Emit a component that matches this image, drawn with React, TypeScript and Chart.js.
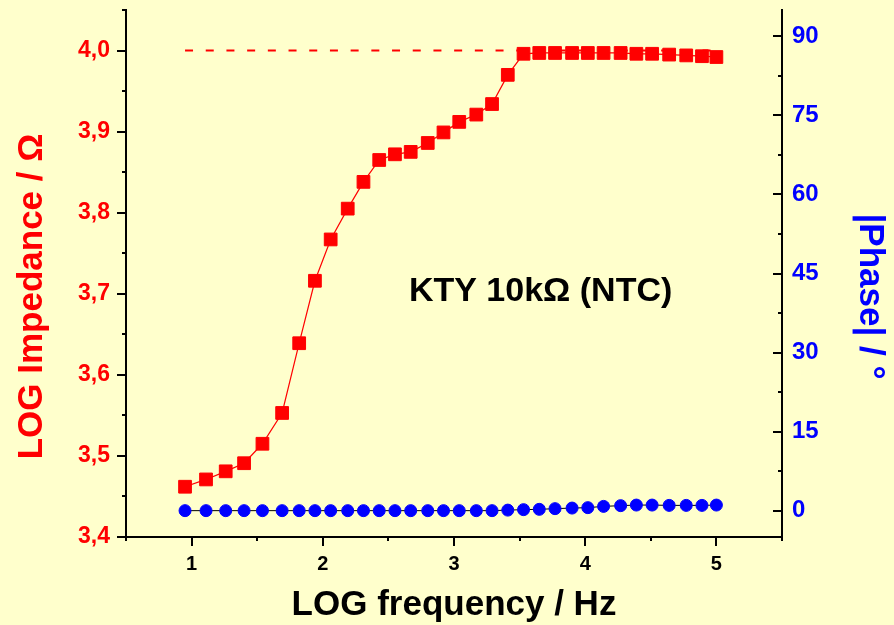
import React, { useEffect, useRef } from "react";
import { Chart, registerables } from "chart.js";

Chart.register(...registerables);

// ---- data ----
const logFreq = [
  0.95, 1.11, 1.26, 1.4, 1.54, 1.69, 1.82, 1.94, 2.06, 2.19, 2.31, 2.43, 2.55,
  2.67, 2.8, 2.92, 3.04, 3.17, 3.29, 3.41, 3.53, 3.65, 3.77, 3.9, 4.02, 4.14,
  4.27, 4.39, 4.51, 4.64, 4.77, 4.89, 5.0,
];
const logImpedance = [
  3.462, 3.471, 3.481, 3.491, 3.515, 3.553, 3.639, 3.716, 3.767, 3.805, 3.838,
  3.865, 3.872, 3.875, 3.886, 3.899, 3.912, 3.921, 3.934, 3.97, 3.996, 3.997,
  3.997, 3.997, 3.997, 3.997, 3.997, 3.996, 3.996, 3.995, 3.994, 3.993, 3.992,
];
const phaseAbs = [
  0, 0, 0, 0, 0, 0, 0, 0, 0, 0, 0, 0, 0, 0, 0, 0, 0, 0, 0, 0.1, 0.19, 0.25,
  0.38, 0.49, 0.57, 0.81, 0.95, 1.06, 1.06, 1.0, 1.0, 1.0, 1.06,
];
const refLineX = [0.95, 5.0];
const refLineY = [4.0, 4.0];

// ---- ticks ----
const xTickValues = [1, 2, 3, 4, 5];
const xMinorTicks = [0.5, 1.5, 2.5, 3.5, 4.5, 5.5];
const leftTickValues = [3.4, 3.5, 3.6, 3.7, 3.8, 3.9, 4.0];
const leftMinorTicks = [3.45, 3.55, 3.65, 3.75, 3.85, 3.95, 4.05];
const rightTickValues = [0, 15, 30, 45, 60, 75, 90];
const rightMinorTicks = [7.5, 22.5, 37.5, 52.5, 67.5, 82.5];

// ---- texts ----
const xTitle = "LOG frequency / Hz";
const leftTitle = "LOG Impedance / Ω";
const rightTitle = "|Phase| / °";
const annotationText = "KTY 10kΩ (NTC)";
const annotationX = 3.66;
const annotationY = 3.691;

const FONT = '"Liberation Sans", Arial, sans-serif';
const RED = "#ff0000";
const BLUE = "#0000ff";

const zeroPad = (s: any) => {
  s.paddingTop = 0;
  s.paddingBottom = 0;
  s.paddingLeft = 0;
  s.paddingRight = 0;
};

const decorPlugin = {
  id: "decor",
  afterDraw(chart: any) {
    const { ctx, chartArea, scales } = chart;
    const sx = scales.x;
    const sy = scales.y;
    const sy1 = scales.y1;
    ctx.save();
    ctx.strokeStyle = "#000";
    ctx.lineWidth = 2;
    ctx.beginPath();
    leftTickValues.forEach((v) => {
      const y = Math.round(sy.getPixelForValue(v));
      ctx.moveTo(chartArea.left - 9, y);
      ctx.lineTo(chartArea.left, y);
    });
    leftMinorTicks.forEach((v) => {
      const y = Math.round(sy.getPixelForValue(v));
      ctx.moveTo(chartArea.left - 4, y);
      ctx.lineTo(chartArea.left, y);
    });
    xTickValues.forEach((v) => {
      const x = Math.round(sx.getPixelForValue(v));
      ctx.moveTo(x, chartArea.bottom);
      ctx.lineTo(x, chartArea.bottom + 9);
    });
    xMinorTicks.forEach((v) => {
      const x = Math.round(sx.getPixelForValue(v));
      ctx.moveTo(x, chartArea.bottom);
      ctx.lineTo(x, chartArea.bottom + 4);
    });
    rightTickValues.forEach((v) => {
      const y = Math.round(sy1.getPixelForValue(v));
      ctx.moveTo(chartArea.right - 9, y);
      ctx.lineTo(chartArea.right, y);
    });
    rightMinorTicks.forEach((v) => {
      const y = Math.round(sy1.getPixelForValue(v));
      ctx.moveTo(chartArea.right - 4, y);
      ctx.lineTo(chartArea.right, y);
    });
    ctx.stroke();

    const cx = (chartArea.left + chartArea.right) / 2;
    const cy = (chartArea.top + chartArea.bottom) / 2;

    ctx.fillStyle = "#000";
    ctx.font = `bold 35px ${FONT}`;
    ctx.textAlign = "center";
    ctx.textBaseline = "alphabetic";
    ctx.fillText(xTitle, cx, chartArea.bottom + 78);

    ctx.save();
    ctx.translate(42, cy + 23);
    ctx.rotate(-Math.PI / 2);
    ctx.fillStyle = RED;
    ctx.fillText(leftTitle, 0, 0);
    ctx.restore();

    ctx.save();
    ctx.translate(chartArea.right + 78, cy + 23);
    ctx.rotate(Math.PI / 2);
    ctx.fillStyle = BLUE;
    ctx.fillText(rightTitle, 0, 0);
    ctx.restore();

    ctx.fillStyle = "#000";
    ctx.font = `bold 34px ${FONT}`;
    ctx.fillText(
      annotationText,
      sx.getPixelForValue(annotationX),
      sy.getPixelForValue(annotationY)
    );
    ctx.restore();
  },
};

export default function App() {
  const canvasRef = useRef<HTMLCanvasElement | null>(null);

  useEffect(() => {
    if (!canvasRef.current) return;
    const chart = new Chart(canvasRef.current, {
      type: "line",
      data: {
        datasets: [
          {
            label: "LOG Impedance",
            data: logFreq.map((x, i) => ({ x, y: logImpedance[i] })),
            yAxisID: "y",
            borderColor: RED,
            borderWidth: 1.2,
            pointStyle: "rect",
            pointRadius: 9,
            pointBorderWidth: 1,
            pointBackgroundColor: RED,
            pointBorderColor: RED,
            tension: 0,
          },
          {
            label: "|Phase|",
            data: logFreq.map((x, i) => ({ x, y: phaseAbs[i] })),
            yAxisID: "y1",
            borderColor: "#000",
            borderWidth: 1,
            pointStyle: "circle",
            pointRadius: 6,
            pointBorderWidth: 1,
            pointBackgroundColor: BLUE,
            pointBorderColor: BLUE,
            tension: 0,
          },
          {
            label: "reference",
            data: refLineX.map((x, i) => ({ x, y: refLineY[i] })),
            yAxisID: "y",
            borderColor: RED,
            borderWidth: 2,
            borderDash: [8, 12.7],
            pointRadius: 0,
            tension: 0,
          },
        ],
      },
      options: {
        animation: false,
        responsive: false,
        devicePixelRatio: 1,
        layout: { padding: { top: 7, left: 0, right: 0, bottom: 0 } },
        plugins: {
          legend: { display: false },
          tooltip: { enabled: false },
        },
        scales: {
          x: {
            type: "linear",
            position: "bottom",
            min: 0.5,
            max: 5.5,
            afterBuildTicks: (s: any) => {
              s.ticks = xTickValues.map((v) => ({ value: v }));
            },
            afterFit: (s: any) => {
              s.height = 88;
              zeroPad(s);
            },
            grid: { display: false, drawTicks: false },
            border: { display: true, color: "#000", width: 2 },
            ticks: {
              color: "#000",
              font: { family: FONT, size: 20, weight: "bold" },
              padding: 15,
              maxRotation: 0,
              callback: (v: any) => String(v),
            },
          },
          y: {
            type: "linear",
            position: "left",
            min: 3.4,
            max: 4.05,
            afterBuildTicks: (s: any) => {
              s.ticks = leftTickValues.map((v) => ({ value: v }));
            },
            afterFit: (s: any) => {
              s.width = 126;
              zeroPad(s);
            },
            grid: { display: false, drawTicks: false },
            border: { display: true, color: "#000", width: 2 },
            ticks: {
              color: RED,
              font: { family: FONT, size: 23, weight: "bold" },
              padding: 16,
              callback: (v: any) => Number(v).toFixed(1).replace(".", ","),
            },
          },
          y1: {
            type: "linear",
            position: "right",
            min: -5,
            max: 95,
            afterBuildTicks: (s: any) => {
              s.ticks = rightTickValues.map((v) => ({ value: v }));
            },
            afterFit: (s: any) => {
              s.width = 112;
              zeroPad(s);
            },
            grid: { display: false, drawTicks: false },
            border: { display: true, color: "#000", width: 2 },
            ticks: {
              color: BLUE,
              font: { family: FONT, size: 24, weight: "bold" },
              padding: 10,
              callback: (v: any) => String(v),
            },
          },
        },
      } as any,
      plugins: [decorPlugin],
    });
    return () => chart.destroy();
  }, []);

  return (
    <div
      style={{
        position: "fixed",
        left: 0,
        top: 0,
        width: 894,
        height: 625,
        background: "#ffffcc",
      }}
    >
      <canvas ref={canvasRef} width={894} height={625} style={{ display: "block" }} />
    </div>
  );
}
